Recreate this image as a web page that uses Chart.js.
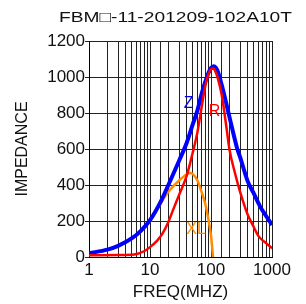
<!DOCTYPE html>
<html><head><meta charset="utf-8">
<script src="https://cdn.jsdelivr.net/npm/chart.js@4.4.1/dist/chart.umd.min.js"></script>
<style>html,body{margin:0;padding:0;background:#fff;}canvas{display:block;}</style>
</head><body>
<canvas id="c" width="306" height="304"></canvas>
<script>
// ---- data ----
const chartTitle = 'FBM\u25A1-11-201209-102A10T';
const xAxisTitle = 'FREQ(MHZ)';
const yAxisTitle = 'IMPEDANCE';
const xTickLabels = [1, 10, 100, 1000];
const yTickValues = [0, 200, 400, 600, 800, 1000, 1200];

const zFreq   = [1, 2, 3, 5, 7, 10, 15, 20, 30, 40, 50, 60, 70, 80, 90, 100, 110, 120, 130, 150, 180, 200, 270, 300, 400, 500, 640, 800, 1000];
const zValues = [21, 41, 62, 103, 144, 205, 308, 400, 535, 635, 735, 815, 905, 970, 1020, 1050, 1060, 1052, 1028, 955, 846, 780, 600, 555, 420, 355, 280, 228, 178];

const rFreq   = [1, 3, 5.5, 8, 10, 13, 16, 20, 24, 30, 40, 50, 60, 70, 80, 90, 100, 110, 120, 130, 150, 180, 200, 250, 300, 400, 500, 600, 800, 1000];
const rValues = [10, 11, 14, 32, 55, 90, 130, 195, 263, 345, 452, 578, 695, 830, 945, 1012, 1043, 1047, 1025, 990, 900, 715, 600, 460, 362, 235, 168, 116, 77, 49];

const xlFreq   = [1, 2, 3, 5, 7, 10, 15, 20, 30, 40, 45, 50, 60, 70, 80, 90, 100, 106, 108];
const xlValues = [19, 39, 60, 100, 140, 198, 298, 362, 425, 460, 467, 462, 425, 362, 300, 215, 120, 30, 0];

const seriesNames = ['Z', 'R', 'XL'];

function toPoints(xs, ys) { return xs.map((x, i) => ({x: x, y: ys[i]})); }

const FONT = '"Liberation Sans", Arial, sans-serif';
const colors = {Z: '#0000ff', R: '#ff0000', XL: '#ff8c00'};
const labelAnchors = {Z: {x: 42.8, y: 852}, R: {x: 114, y: 806}, XL: {x: 57, y: 151}};

const titlePlugin = {
  id: 'chartTitleText',
  afterDraw(chart) {
    const ctx = chart.ctx;
    ctx.save();
    ctx.font = '15px ' + FONT;
    ctx.fillStyle = '#111';
    ctx.textBaseline = 'alphabetic';
    ctx.textAlign = 'left';
    const w = ctx.measureText(chartTitle).width;
    ctx.translate(59, 22);
    ctx.scale(233 / w, 1);
    ctx.fillText(chartTitle, 0, 0);
    ctx.restore();
  }
};

const curveLabelPlugin = {
  id: 'curveLabels',
  afterDatasetsDraw(chart) {
    const ctx = chart.ctx;
    const xs = chart.scales.x, ys = chart.scales.y;
    ctx.save();
    ctx.font = '16px ' + FONT;
    ctx.textAlign = 'center';
    ctx.textBaseline = 'middle';
    seriesNames.forEach(n => {
      const a = labelAnchors[n];
      ctx.fillStyle = colors[n];
      ctx.fillText(n, xs.getPixelForValue(a.x), ys.getPixelForValue(a.y));
    });
    ctx.restore();
  }
};

new Chart(document.getElementById('c'), {
  type: 'line',
  data: {
    datasets: [
      {label: 'R', data: toPoints(rFreq, rValues), borderColor: colors.R, borderWidth: 2.5, order: 1},
      {label: 'Z', data: toPoints(zFreq, zValues), borderColor: colors.Z, borderWidth: 4, order: 2},
      {label: 'XL', data: toPoints(xlFreq, xlValues), borderColor: colors.XL, borderWidth: 2.5, order: 3}
    ]
  },
  options: {
    responsive: false,
    animation: false,
    devicePixelRatio: 1,
    elements: {
      point: {radius: 0, hoverRadius: 0},
      line: {cubicInterpolationMode: 'monotone', fill: false}
    },
    layout: {padding: {top: 41, right: 34, bottom: 0, left: 0}},
    plugins: {legend: {display: false}, title: {display: false}, tooltip: {enabled: false}},
    scales: {
      x: {
        type: 'logarithmic',
        min: 1, max: 1000,
        afterFit(s) { s.height = 47; },
        grid: {color: '#222', lineWidth: 1, drawTicks: false},
        border: {color: '#000', width: 1},
        ticks: {
          autoSkip: false, maxRotation: 0, padding: 3, color: '#111',
          font: {family: FONT, size: 17},
          callback: (v) => xTickLabels.includes(Number(v)) ? String(v) : ''
        },
        title: {display: true, text: xAxisTitle, color: '#111', font: {family: FONT, size: 17}, padding: {top: 0, bottom: 1}}
      },
      y: {
        type: 'linear',
        min: 0, max: 1200,
        afterFit(s) { s.width = 89; },
        afterBuildTicks(s) { s.ticks = yTickValues.map(v => ({value: v})); },
        grid: {color: '#222', lineWidth: 1, drawTicks: true, tickLength: 4},
        border: {color: '#000', width: 1},
        ticks: {padding: 0, color: '#111', font: {family: FONT, size: 17}, callback: (v) => String(v)},
        title: {display: true, text: yAxisTitle, color: '#111', font: {family: FONT, size: 16}, padding: {top: 13, bottom: 0}}
      }
    }
  },
  plugins: [titlePlugin, curveLabelPlugin]
});
</script>
</body></html>
